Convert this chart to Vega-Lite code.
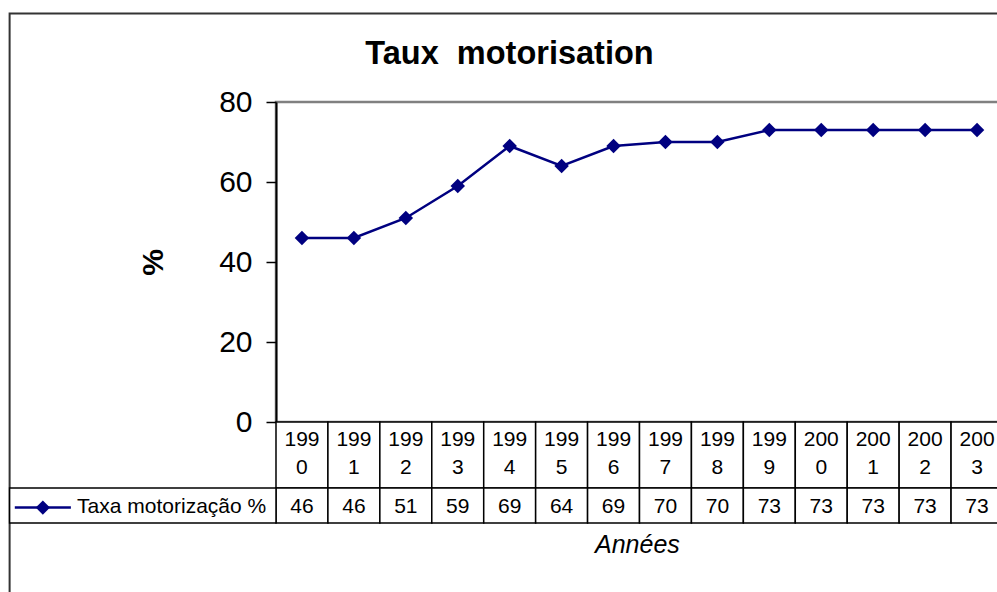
{
  "$schema": "https://vega.github.io/schema/vega-lite/v6.json",
  "width": 727,
  "height": 320,
  "autosize": {"type": "none"},
  "padding": {"left": 276, "top": 102, "right": 0, "bottom": 170},
  "background": "white",
  "title": {
    "text": "Taux\u00a0 motorisation",
    "anchor": "middle",
    "frame": "group",
    "baseline": "alphabetic",
    "offset": -84,
    "dx": -130,
    "fontSize": 32.5,
    "fontWeight": "bold",
    "font": "Liberation Sans",
    "color": "black"
  },
  "config": {
    "font": "Liberation Sans",
    "view": {"stroke": "#808080", "strokeWidth": 2.5}
  },
  "datasets": {
    "taux": [
      {"year": 1990, "t1": "199", "t2": "0", "value": 46},
      {"year": 1991, "t1": "199", "t2": "1", "value": 46},
      {"year": 1992, "t1": "199", "t2": "2", "value": 51},
      {"year": 1993, "t1": "199", "t2": "3", "value": 59},
      {"year": 1994, "t1": "199", "t2": "4", "value": 69},
      {"year": 1995, "t1": "199", "t2": "5", "value": 64},
      {"year": 1996, "t1": "199", "t2": "6", "value": 69},
      {"year": 1997, "t1": "199", "t2": "7", "value": 70},
      {"year": 1998, "t1": "199", "t2": "8", "value": 70},
      {"year": 1999, "t1": "199", "t2": "9", "value": 73},
      {"year": 2000, "t1": "200", "t2": "0", "value": 73},
      {"year": 2001, "t1": "200", "t2": "1", "value": 73},
      {"year": 2002, "t1": "200", "t2": "2", "value": 73},
      {"year": 2003, "t1": "200", "t2": "3", "value": 73}
    ],
    "one": [{"label": "Taxa motorização %"}]
  },
  "layer": [
    {
      "data": {"name": "one"},
      "mark": {"type": "rect", "fill": null, "fillOpacity": 0, "stroke": "#333333", "strokeWidth": 2},
      "encoding": {
        "x": {"datum": 1984.37, "type": "quantitative", "scale": {"domain": [1989.5, 2003.5], "nice": false, "zero": false, "padding": 0}, "axis": null},
        "x2": {"datum": 2006},
        "y": {"datum": 102.125, "type": "quantitative", "scale": {"domain": [0, 80], "nice": false, "zero": false, "padding": 0}},
        "y2": {"datum": -60}
      }
    },
    {
      "data": {"name": "taux"},
      "mark": {"type": "bar", "width": 51.93, "fill": "white", "stroke": "black", "strokeWidth": 1.5},
      "encoding": {
        "x": {"field": "year", "type": "quantitative", "axis": null},
        "y": {"datum": 0, "type": "quantitative"},
        "y2": {"datum": -16.5}
      }
    },
    {
      "data": {"name": "taux"},
      "mark": {"type": "bar", "width": 51.93, "fill": "white", "stroke": "black", "strokeWidth": 1.5},
      "encoding": {
        "x": {"field": "year", "type": "quantitative", "axis": null},
        "y": {"datum": -16.5, "type": "quantitative"},
        "y2": {"datum": -25.25}
      }
    },
    {
      "data": {"name": "one"},
      "mark": {"type": "rect", "fill": "white", "stroke": "black", "strokeWidth": 1.5},
      "encoding": {
        "x": {"datum": 1984.37, "type": "quantitative", "axis": null},
        "x2": {"datum": 1989.5},
        "y": {"datum": -16.5, "type": "quantitative"},
        "y2": {"datum": -25.25}
      }
    },
    {
      "data": {"name": "taux"},
      "mark": {"type": "text", "fontSize": 21, "baseline": "middle", "align": "center", "color": "black"},
      "encoding": {
        "x": {"field": "year", "type": "quantitative", "axis": null},
        "y": {"datum": -4.5, "type": "quantitative"},
        "text": {"field": "t1", "type": "nominal"}
      }
    },
    {
      "data": {"name": "taux"},
      "mark": {"type": "text", "fontSize": 21, "baseline": "middle", "align": "center", "color": "black"},
      "encoding": {
        "x": {"field": "year", "type": "quantitative", "axis": null},
        "y": {"datum": -11.5, "type": "quantitative"},
        "text": {"field": "t2", "type": "nominal"}
      }
    },
    {
      "data": {"name": "taux"},
      "mark": {"type": "text", "fontSize": 21, "baseline": "middle", "align": "center", "color": "black"},
      "encoding": {
        "x": {"field": "year", "type": "quantitative", "axis": null},
        "y": {"datum": -21.25, "type": "quantitative"},
        "text": {"field": "value", "type": "quantitative"}
      }
    },
    {
      "data": {"name": "taux"},
      "mark": {"type": "line", "color": "#000080", "strokeWidth": 2.5,
        "point": {"shape": "diamond", "size": 210, "filled": true, "color": "#000080", "opacity": 1}},
      "encoding": {
        "x": {"field": "year", "type": "quantitative", "axis": null},
        "y": {"field": "value", "type": "quantitative",
          "axis": {
            "values": [0, 20, 40, 60, 80],
            "title": "%",
            "titleFontSize": 30,
            "titleFontWeight": "bold",
            "titleColor": "black",
            "titleAngle": -90,
            "titlePadding": 50,
            "labelFontSize": 30,
            "labelColor": "black",
            "labelPadding": 14,
            "tickSize": 10,
            "tickColor": "black",
            "tickWidth": 1.5,
            "domainColor": "black",
            "domainWidth": 2,
            "grid": false
          }
        }
      }
    },
    {
      "data": {"name": "one"},
      "mark": {"type": "rule", "color": "#000080", "strokeWidth": 2.5},
      "encoding": {
        "x": {"datum": 1984.47, "type": "quantitative", "axis": null},
        "x2": {"datum": 1985.55},
        "y": {"datum": -21.4, "type": "quantitative"}
      }
    },
    {
      "data": {"name": "one"},
      "mark": {"type": "point", "shape": "diamond", "size": 200, "filled": true, "color": "#000080", "opacity": 1},
      "encoding": {
        "x": {"datum": 1985.01, "type": "quantitative", "axis": null},
        "y": {"datum": -21.4, "type": "quantitative"}
      }
    },
    {
      "data": {"name": "one"},
      "mark": {"type": "text", "fontSize": 21, "align": "left", "baseline": "middle", "color": "black"},
      "encoding": {
        "x": {"datum": 1985.67, "type": "quantitative", "axis": null},
        "y": {"datum": -21.25, "type": "quantitative"},
        "text": {"field": "label", "type": "nominal"}
      }
    },
    {
      "data": {"name": "one"},
      "mark": {"type": "text", "text": "Années", "fontSize": 25, "fontStyle": "italic", "align": "center", "baseline": "middle", "color": "black"},
      "encoding": {
        "x": {"datum": 1996.46, "type": "quantitative", "axis": null},
        "y": {"datum": -30.75, "type": "quantitative"}
      }
    }
  ]
}
